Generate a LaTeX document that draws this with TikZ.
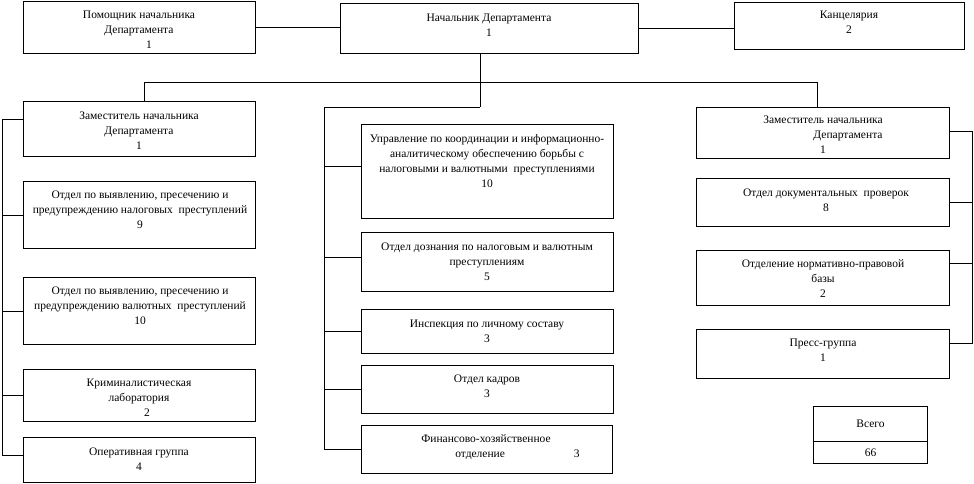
\documentclass[tikz,border=0pt]{standalone}
\usepackage{fontspec}
\setmainfont{Liberation Serif}
\begin{document}
\begin{tikzpicture}[x=1pt,y=-1pt,
  box/.style={draw, line width=1pt, rectangle, inner sep=0pt, anchor=north west},
  txt/.style={align=center, font=\fontsize{11.5}{15}\selectfont, inner sep=0pt},
  cell/.style={draw, line width=1pt, rectangle, inner sep=0pt, anchor=north west, font=\fontsize{11.5}{15}\selectfont},
  conn/.style={line width=1pt}]
\useasboundingbox (0,0) rectangle (974,483);

% top row
\node[box, minimum width=232pt, minimum height=52pt] (pom) at (23,0.5) {};
\node[box, minimum width=298pt, minimum height=50pt] (nach) at (340,3) {};
\node[box, minimum width=230pt, minimum height=47pt] (kanc) at (734,2) {};

% left column
\node[box, minimum width=232pt, minimum height=55pt] (zl1) at (23,101) {};
\node[box, minimum width=232pt, minimum height=67pt] (zl2) at (23,181) {};
\node[box, minimum width=232pt, minimum height=67pt] (zl3) at (23,277) {};
\node[box, minimum width=232pt, minimum height=52pt] (zl4) at (23,369) {};
\node[box, minimum width=232pt, minimum height=45pt] (zl5) at (23,437) {};

% middle column
\node[box, minimum width=252pt, minimum height=94pt] (m1) at (361,124) {};
\node[box, minimum width=252pt, minimum height=59pt] (m2) at (361,232) {};
\node[box, minimum width=252pt, minimum height=44pt] (m3) at (361,309) {};
\node[box, minimum width=252pt, minimum height=48pt] (m4) at (361,365) {};
\node[box, minimum width=251pt, minimum height=48pt] (m5) at (361,425) {};

% right column
\node[box, minimum width=253pt, minimum height=51pt] (r1) at (696,107) {};
\node[box, minimum width=253pt, minimum height=48pt] (r2) at (696,178) {};
\node[box, minimum width=253pt, minimum height=55pt] (r3) at (696,250) {};
\node[box, minimum width=253pt, minimum height=49pt] (r4) at (696,329) {};

% total
\node[cell, minimum width=114pt, minimum height=35pt] (vtop) at (813,406) {Всего};
\node[cell, minimum width=114pt, minimum height=22pt] (vbot) at (813,441) {66};

% texts
\node[txt] (t-pom) at (139,29.5) {Помощник начальника\\Департамента\\\hspace*{20pt}1};
\node[txt] (t-nach) at (489,25) {Начальник Департамента\\1};
\node[txt] (t-kanc) at (849,22.5) {Канцелярия\\2};

\node[txt] (t-zl1) at (139,130.5) {Заместитель начальника\\Департамента\\1};
\node[txt] (t-zl2) at (140,209.5) {Отдел по выявлению, пресечению и\\предупреждению налоговых\ \ преступлений\\9};
\node[txt] (t-zl3) at (140,305.5) {Отдел по выявлению, пресечению и\\предупреждению валютных\ \ преступлений\\10};
\node[txt] (t-zl4) at (139,398) {Криминалистическая\\лаборатория\\\hspace*{16pt}2};
\node[txt] (t-zl5) at (139,459.5) {Оперативная группа\\4};

\node[txt] (t-m1) at (487,161.5) {Управление по координации и информационно-\\аналитическому обеспечению борьбы с\\налоговыми и валютными\ \ преступлениями\\10};
\node[txt] (t-m2) at (487,262) {Отдел дознания по налоговым и валютным\\преступлениям\\5};
\node[txt] (t-m3) at (487,331.5) {Инспекция по личному составу\\3};
\node[txt] (t-m4) at (487,386.5) {Отдел кадров\\3};
\node[txt] (t-m5) at (486,447.5) {Финансово-хозяйственное\\\hspace*{63pt}отделение\hspace{69pt}3};

\node[txt] (t-r1) at (823,135) {Заместитель начальника\\\hspace*{50pt}Департамента\\1};
\node[txt] (t-r2) at (826,200) {Отдел документальных\ \ проверок\\8};
\node[txt] (t-r3) at (823,279) {Отделение нормативно-правовой\\базы\\2};
\node[txt] (t-r4) at (823,350.5) {Пресс-группа\\1};

% connectors: top
\draw[conn] (pom.east) -- (pom.east -| nach.west);
\draw[conn] (nach.east) -- (nach.east -| kanc.west);
\coordinate (tj) at (480,82);
\coordinate (mj) at (480,107);
\coordinate (bl) at (144,82);
\coordinate (br) at (817,82);
\draw[conn] (nach.south -| tj) -- (mj);
\draw[conn] (bl |- zl1.north) -- (bl) -- (br) -- (br |- r1.north);

% middle bus
\coordinate (mt) at (324,107);
\coordinate (m1b) at ([yshift=5pt]m1.west);
\coordinate (m2b) at ([yshift=5pt]m2.west);
\draw[conn] (mj) -- (mt) -- (mt |- m5.west) -- (m5.west);
\draw[conn] (m1b -| mt) -- (m1b);
\draw[conn] (m2b -| mt) -- (m2b);
\draw[conn] (m3.west -| mt) -- (m3.west);
\draw[conn] (m4.west -| mt) -- (m4.west);

% left bus
\coordinate (lx) at (2,0);
\coordinate (l1b) at ([yshift=10pt]zl1.west);
\coordinate (l5b) at ([yshift=5pt]zl5.west);
\draw[conn] (l1b) -- (l1b -| lx) -- (l5b -| lx) -- (l5b);
\draw[conn] (zl2.west -| lx) -- (zl2.west);
\draw[conn] (zl3.west -| lx) -- (zl3.west);
\draw[conn] (zl4.west -| lx) -- (zl4.west);

% right bus
\coordinate (rx) at (972,0);
\coordinate (r1b) at ([yshift=2pt]r1.east);
\coordinate (r3b) at ([yshift=15pt]r3.east);
\coordinate (r4b) at ([yshift=11pt]r4.east);
\draw[conn] (r1b) -- (r1b -| rx) -- (r4b -| rx) -- (r4b);
\draw[conn] (r2.east -| rx) -- (r2.east);
\draw[conn] (r3b -| rx) -- (r3b);
\end{tikzpicture}
\end{document}
